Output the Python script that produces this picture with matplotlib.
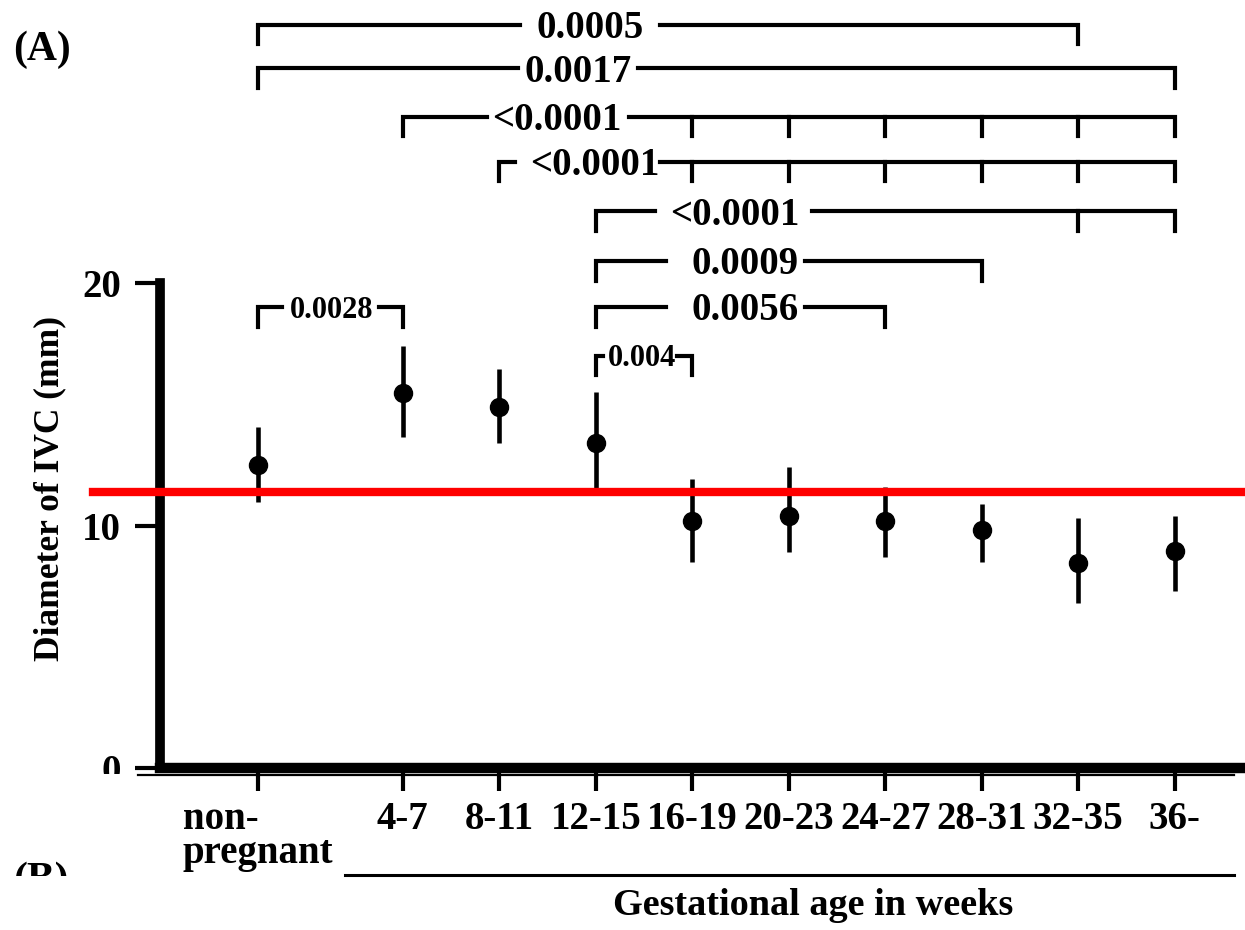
import numpy as np
import matplotlib
matplotlib.use('Agg')
import matplotlib.pyplot as plt
from matplotlib.patches import Rectangle

plt.rcParams['font.family'] = ['Liberation Serif', 'DejaVu Serif']
plt.rcParams['font.weight'] = 'bold'

groups = ['non-\npregnant', '4-7', '8-11', '12-15', '16-19', '20-23',
          '24-27', '28-31', '32-35', '36-']
means = [12.5, 15.45, 14.9, 13.4, 10.2, 10.4, 10.2, 9.8, 8.45, 8.95]
upper = [14.05, 17.4, 16.45, 15.5, 11.9, 12.4, 11.6, 10.9, 10.3, 10.4]
lower = [10.95, 13.65, 13.4, 11.5, 8.5, 8.9, 8.7, 8.5, 6.8, 7.3]
threshold = 11.4

# significance brackets: group pairs, p-values, extra ticks
pairs = [(0, 8), (0, 9), (1, 9), (2, 9), (3, 9), (3, 7), (3, 6), (0, 1), (3, 4)]
pvals = ['0.0005', '0.0017', '<0.0001', '<0.0001', '<0.0001',
         '0.0009', '0.0056', '0.0028', '0.004']
extra_ticks = [[], [], [4, 5, 6, 7, 8], [4, 5, 6, 7, 8], [8], [], [], [], []]

# layout of the brackets (level, text centre, gap in line)
levels = [30.65, 28.85, 26.85, 25.0, 22.95, 20.9, 19.0, 19.0, 17.0]
text_x = [3.44, 3.32, 3.10, 3.49, 4.94, 5.05, 5.05, 0.76, 3.98]
gaps = [(2.72, 4.17), (2.69, 3.94), (2.37, 3.84), (2.66, 4.17), (4.11, 5.74),
        (4.23, 5.67), (4.23, 5.67), (0.25, 1.25), (3.58, 4.34)]
small = [False] * 7 + [True, True]

x = np.r_[0, np.arange(1, len(groups)) + 0.5]
means = np.array(means)
yerr = [means - np.array(lower), np.array(upper) - means]

W, H = 1245, 930
fig = plt.figure(figsize=(W / 100, H / 100), dpi=100)
ppu = 96.5
ax = fig.add_axes([160 / W, 1 - 768 / H, (1243 - 160) / W, (768 - 283) / H])
ax.set_xlim((160 - 258) / ppu, (1243 - 258) / ppu)
ax.set_ylim(0, 20)

ax.errorbar(x, means, yerr=yerr, fmt='o', color='black', ms=13,
            elinewidth=3.3, capsize=0, zorder=3)
ax.axhline(threshold, xmin=(93 - 160) / 1083, xmax=1.01, color='#ff0000',
           lw=6, zorder=5, clip_on=False)

for sp in ['top', 'right']:
    ax.spines[sp].set_visible(False)
ax.spines['left'].set_linewidth(7)
ax.spines['bottom'].set_linewidth(7.5)
ax.spines['left'].set_bounds(0, 20)

ax.set_yticks([0, 10, 20])
ax.tick_params(axis='y', direction='out', length=18, width=3, labelsize=28, pad=10)
ax.set_xticks(x)
ax.set_xticklabels(groups, multialignment='left')
ax.tick_params(axis='x', direction='out', length=16.5, width=3, labelsize=28, pad=7)
for lab in ax.get_xticklabels():
    lab.set_linespacing(0.9)

# thin line under the bottom axis
ax.plot([(138 - 258) / ppu, (1234 - 258) / ppu], [-0.3, -0.3], color='black',
        lw=1.6, clip_on=False)

drop = 0.8
for k, (i, j) in enumerate(pairs):
    y = levels[k]
    x0, x1 = x[i], x[j]
    g0, g1 = gaps[k]
    ax.plot([x0, x0, g0], [y - drop, y, y], color='black', lw=3,
            solid_joinstyle='miter', clip_on=False)
    ax.plot([g1, x1, x1], [y, y, y - drop], color='black', lw=3,
            solid_joinstyle='miter', clip_on=False)
    for t in extra_ticks[k]:
        ax.plot([x[t], x[t]], [y, y - drop], color='black', lw=3, clip_on=False)
    fs = 22 if small[k] else 28
    ax.annotate(pvals[k], (text_x[k], y), xytext=(0, -0.34 * fs),
                textcoords='offset points', ha='center', va='baseline',
                fontsize=fs, annotation_clip=False)

fig.text(50 / W, 1 - 488 / H, 'Diameter of IVC (mm)', rotation=90,
         ha='center', va='center', fontsize=25.5)
fig.text(13 / W, 1 - 50 / H, '(A)', ha='left', va='center', fontsize=30)
fig.text(813 / W, 1 - 905 / H, 'Gestational age in weeks', ha='center',
         va='center', fontsize=27.5)
fig.add_artist(plt.Line2D([345 / W, 1234 / W], [1 - 875 / H, 1 - 875 / H],
                          color='black', lw=2.2))

# partially hidden labels: bottom of the "0" tick label and the next panel
fig.text(13 / W, 1 - 862 / H, '(B)', ha='left', va='top', fontsize=30)
fig.add_artist(Rectangle((0, 0), 120 / W, 1 - 876 / H, transform=fig.transFigure,
                         facecolor='white', edgecolor='none', zorder=10))
fig.add_artist(Rectangle((60 / W, 1 - 800 / H), 76 / W, 26 / H,
                         transform=fig.transFigure, facecolor='white',
                         edgecolor='none', zorder=10))

fig.savefig('out.png', dpi=100)
